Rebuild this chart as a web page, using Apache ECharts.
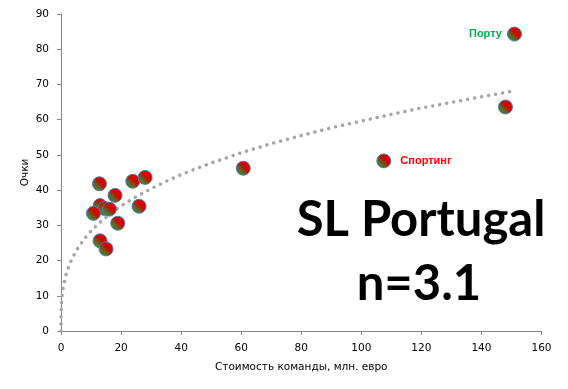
<!DOCTYPE html>
<html>
<head>
<meta charset="utf-8">
<script src="https://cdn.jsdelivr.net/npm/echarts@6/dist/echarts.min.js"></script>
<style>
html,body{margin:0;padding:0;background:#fff;}
#c{width:568px;height:389px;}
</style>
</head>
<body>
<div id="c"></div>
<script>
// Team values (x: squad value, mln euro; y: points)
var teamX = [151, 148, 107.5, 60.7, 12.8, 23.9, 28, 18, 13, 14.5, 16.1, 10.8, 26, 18.9, 13, 15];
var teamY = [84.3, 63.6, 48.3, 46.2, 41.8, 42.5, 43.6, 38.5, 35.6, 34.8, 34.6, 33.4, 35.4, 30.6, 25.6, 23.3];
var teamLabels = ['Порту', '', 'Спортинг', '', '', '', '', '', '', '', '', '', '', '', '', ''];
var labelColors = ['#00b050', '', '#ff0000'];
var labelSides = ['left', '', 'right'];
// Power trendline
var trendX = [0, 0.001, 0.005, 0.02, 0.05, 0.1, 0.2, 0.3, 0.5, 0.7, 1, 1.5, 2, 3, 4, 6, 8, 10, 12, 15, 20, 25, 30, 35, 40, 45, 50, 60, 70, 80, 90, 100, 110, 120, 130, 140, 150];
var trendY = [0, 1.45, 2.4, 3.8, 5.1, 6.4, 8.0, 9.2, 10.8, 12, 13.5, 15.4, 16.9, 19.2, 21.1, 24.1, 26.4, 28.4, 30.1, 32.3, 35.5, 38.1, 40.4, 42.5, 44.4, 46.1, 47.7, 50.6, 53.2, 55.5, 57.7, 59.6, 61.5, 63.3, 64.9, 66.5, 68];
var xTicks = [0, 20, 40, 60, 80, 100, 120, 140, 160];
var yTicks = [0, 10, 20, 30, 40, 50, 60, 70, 80, 90];
var titleLines = ['SL Portugal', 'n=3.1'];
var xName = 'Стоимость команды, млн. евро';
var yName = 'Очки';

var markerColor = {
  type: 'linear', x: 0, y: 1, x2: 1, y2: 0,
  colorStops: [
    {offset: 0, color: '#3f7f34'},
    {offset: 0.3, color: '#557327'},
    {offset: 0.55, color: '#c80c00'},
    {offset: 1, color: '#e00000'}
  ]
};

var pts = teamX.map(function (x, i) {
  var d = {value: [x, teamY[i]]};
  if (teamLabels[i]) {
    d.label = {
      show: true, formatter: teamLabels[i], position: labelSides[i],
      distance: labelSides[i] === 'left' ? 5 : 9,
      color: labelColors[i], fontWeight: 'bold', fontSize: 11,
      fontFamily: 'Liberation Sans'
    };
  }
  return d;
});
var trend = trendX.map(function (x, i) { return [x, trendY[i]]; });

var axisFont = {fontFamily: 'DejaVu Sans', fontSize: 10.5, color: '#000'};
var chart = echarts.init(document.getElementById('c'), null, {renderer: 'canvas'});
chart.setOption({
  animation: false,
  backgroundColor: '#fff',
  grid: {left: 61, right: 26.5, top: 14, bottom: 58, containLabel: false},
  xAxis: {
    type: 'value', min: xTicks[0], max: xTicks[xTicks.length - 1], interval: 20,
    name: xName, nameLocation: 'middle', nameGap: 31, nameMoveOverlap: false,
    nameTextStyle: axisFont,
    axisLine: {show: true, lineStyle: {color: '#868686', width: 1}},
    axisTick: {show: true, inside: false, length: 4, lineStyle: {color: '#868686'}},
    axisLabel: Object.assign({margin: 12}, axisFont),
    splitLine: {show: false}
  },
  yAxis: {
    type: 'value', min: yTicks[0], max: yTicks[yTicks.length - 1], interval: 10,
    name: yName, nameLocation: 'middle', nameGap: 30, nameRotate: 90, nameMoveOverlap: false,
    nameTextStyle: axisFont,
    axisLine: {show: true, lineStyle: {color: '#868686', width: 1}},
    axisTick: {show: true, inside: false, length: 4, lineStyle: {color: '#868686'}},
    axisLabel: Object.assign({margin: 12}, axisFont),
    splitLine: {show: false}
  },
  series: [
    {
      type: 'line', data: trend, smooth: false, symbol: 'none',
      lineStyle: {color: '#a6a6a6', width: 3.5, type: [0.1, 7], cap: 'round'},
      z: 1, silent: true
    },
    {
      type: 'scatter', data: pts, symbol: 'circle', symbolSize: 14,
      itemStyle: {color: markerColor, borderColor: '#4a7ebb', borderWidth: 1, opacity: 1},
      z: 3
    }
  ],
  graphic: [
    {type: 'text', x: 421, y: 220, style: {text: titleLines[0], textAlign: 'center', textVerticalAlign: 'middle', font: 'bold 49px Lato', fill: '#000'}},
    {type: 'text', x: 419, y: 284, style: {text: titleLines[1], textAlign: 'center', textVerticalAlign: 'middle', font: 'bold 49px Lato', fill: '#000'}}
  ]
});
</script>
</body>
</html>
